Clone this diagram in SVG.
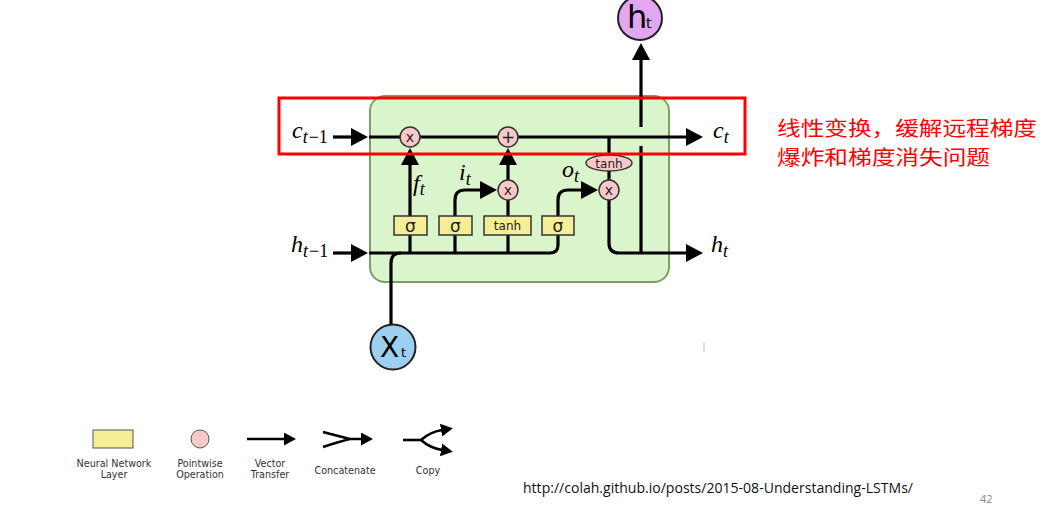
<svg xmlns="http://www.w3.org/2000/svg" width="1058" height="508" viewBox="0 0 1058 508">
<style>
.ln{fill:none;stroke:#000;stroke-width:3.2}
.lnl{fill:none;stroke:#000;stroke-width:2.6}
.nn{fill:#f6ee96;stroke:#333;stroke-width:1.5}
.pw{fill:#f9c9c9;stroke:#333;stroke-width:1.5}
.op{font-family:"DejaVu Sans",sans-serif;fill:#222;text-anchor:middle}
.sg{font-size:17px}
.tn{font-size:12px}
.xx{font-size:14px}
.pl{font-size:17px}
.math{font-family:"Liberation Serif",serif;font-style:italic;font-size:24px;fill:#000}
.sub{font-size:18px}
.up{font-style:normal}
.leg{font-family:"DejaVu Sans",sans-serif;font-size:9.6px;fill:#333;text-anchor:middle}
.cn{font-family:"Noto Sans CJK SC",sans-serif;font-size:20px;fill:#ff0000}
</style>
<defs>
<marker id="ah" markerUnits="userSpaceOnUse" markerWidth="17" markerHeight="18" refX="1" refY="9" orient="auto" viewBox="0 0 17 18"><path d="M0,0 L17,9 L0,18 z" fill="#000"/></marker>
<marker id="as" markerUnits="userSpaceOnUse" markerWidth="12" markerHeight="13" refX="1" refY="6.5" orient="auto" viewBox="0 0 12 13"><path d="M0,0 L12,6.5 L0,13 z" fill="#000"/></marker>
</defs>
<rect width="1058" height="508" fill="#fff"/>

<g id="cell">
<rect x="370" y="96" width="299" height="186" rx="15" fill="#daf5cb" stroke="#7d9f63" stroke-width="2"/>
</g>

<g id="connectors">
<path class="ln" d="M333,137 H352" marker-end="url(#ah)"/>
<path class="ln" d="M369,137 H687" marker-end="url(#ah)"/>
<path class="ln" d="M333,253 H352" marker-end="url(#ah)"/>
<path class="ln" d="M369,253 H550 Q558,253 558,245 V235"/>
<path class="ln" d="M391,325 V263 Q391,253 401,253"/>
<path class="ln" d="M410,253 V235 M455,253 V235 M508,253 V235"/>
<path class="ln" d="M410,216 V164" marker-end="url(#ah)"/>
<path class="ln" d="M455,216 V200 Q455,190 465,190 H481" marker-end="url(#ah)"/>
<path class="ln" d="M508,216 V200"/>
<path class="ln" d="M508,180 V164" marker-end="url(#ah)"/>
<path class="ln" d="M558,216 V200 Q558,190 568,190 H582" marker-end="url(#ah)"/>
<path class="ln" d="M609,137 V155 M609,171 V180"/>
<path class="ln" d="M609,200 V243 Q609,253 619,253 H687" marker-end="url(#ah)"/>
<path class="ln" d="M641,253 V146"/>
<path class="ln" d="M641,127 V59" marker-end="url(#ah)"/>
</g>

<g id="gate-f"><rect class="nn" x="394" y="216" width="33" height="19"/><text class="op sg" x="410.5" y="231.5">σ</text></g>
<g id="gate-i"><rect class="nn" x="439" y="216" width="33" height="19"/><text class="op sg" x="455.5" y="231.5">σ</text></g>
<g id="gate-tanh"><rect class="nn" x="484" y="216" width="47" height="19"/><text class="op tn" x="507.5" y="230">tanh</text></g>
<g id="gate-o"><rect class="nn" x="542" y="216" width="32" height="19"/><text class="op sg" x="558" y="231.5">σ</text></g>

<g id="mul-f"><circle class="pw" cx="410" cy="137" r="10"/><text class="op xx" x="410" y="142">x</text></g>
<g id="add-c"><circle class="pw" cx="508" cy="137" r="10"/><text class="op pl" x="508" y="143">+</text></g>
<g id="mul-i"><circle class="pw" cx="508" cy="190" r="10"/><text class="op xx" x="508" y="195">x</text></g>
<g id="mul-o"><circle class="pw" cx="609" cy="190" r="10"/><text class="op xx" x="609" y="195">x</text></g>
<g id="tanh-c"><ellipse class="pw" cx="609" cy="163" rx="23" ry="8"/><text class="op tn" x="609" y="167.5">tanh</text></g>

<g id="h-out"><circle cx="640" cy="18" r="22" fill="#e2a7f0" stroke="#222" stroke-width="2"/><text font-family="DejaVu Sans,sans-serif" font-size="32" x="627" y="28">h</text><text font-family="DejaVu Sans,sans-serif" font-size="14" x="646" y="28">t</text></g>
<g id="x-in"><circle cx="393" cy="347" r="22.5" fill="#9dd0f0" stroke="#222" stroke-width="2"/><text font-family="DejaVu Sans,sans-serif" font-size="28" x="380" y="357">X</text><text font-family="DejaVu Sans,sans-serif" font-size="13" x="401" y="357">t</text></g>

<g id="labels">
<text class="math" x="292" y="138">c<tspan class="sub" dy="5">t</tspan><tspan class="sub up" dx="1">−1</tspan></text>
<text class="math" x="291" y="252">h<tspan class="sub" dy="5">t</tspan><tspan class="sub up" dx="1">−1</tspan></text>
<text class="math" x="713" y="138">c<tspan class="sub" dy="5">t</tspan></text>
<text class="math" x="711" y="252">h<tspan class="sub" dy="5">t</tspan></text>
<text class="math" x="413" y="191">f<tspan class="sub" dy="4">t</tspan></text>
<text class="math" x="459" y="180">i<tspan class="sub" dy="5">t</tspan></text>
<text class="math" x="562" y="177">o<tspan class="sub" dy="5">t</tspan></text>
</g>

<g id="highlight">
<rect x="279" y="98" width="466" height="56" fill="none" stroke="#ff0000" stroke-width="3"/>
</g>
<g id="note">
<text class="cn" x="777" y="136" textLength="260" lengthAdjust="spacingAndGlyphs">线性变换，缓解远程梯度</text>
<text class="cn" x="777" y="165" textLength="213" lengthAdjust="spacingAndGlyphs">爆炸和梯度消失问题</text>
</g>

<g id="legend">
<rect x="93" y="430" width="40" height="18" fill="#f6ee96" stroke="#555" stroke-width="1"/>
<text class="leg" x="114" y="467">Neural Network</text><text class="leg" x="114" y="478">Layer</text>
<circle cx="200" cy="439" r="9" fill="#f9c9c9" stroke="#555" stroke-width="1"/>
<text class="leg" x="200" y="467">Pointwise</text><text class="leg" x="200" y="478">Operation</text>
<path class="lnl" d="M247,439 H285" marker-end="url(#as)"/>
<text class="leg" x="270" y="467">Vector</text><text class="leg" x="270" y="478">Transfer</text>
<path class="lnl" d="M323,432 Q338,436 350,439 M323,447 Q338,442 350,439 M350,439 H362" marker-end="url(#as)"/>
<text class="leg" x="345" y="474">Concatenate</text>
<path class="lnl" d="M403,440 H421"/>
<path class="lnl" d="M421,440 Q430,432 442,430" marker-end="url(#as)"/>
<path class="lnl" d="M421,440 Q430,448 442,450" marker-end="url(#as)"/>
<text class="leg" x="428" y="474">Copy</text>
</g>

<g id="footer">
<text x="523" y="493" font-family="Open Sans,sans-serif" font-size="14.5" fill="#111" textLength="390" lengthAdjust="spacingAndGlyphs">http://colah.github.io/posts/2015-08-Understanding-LSTMs/</text>
<text x="980" y="503" font-family="Open Sans,sans-serif" font-size="11" fill="#888">42</text>
<line x1="704" y1="342" x2="704" y2="352" stroke="#bbb" stroke-width="1"/>
</g>
</svg>
